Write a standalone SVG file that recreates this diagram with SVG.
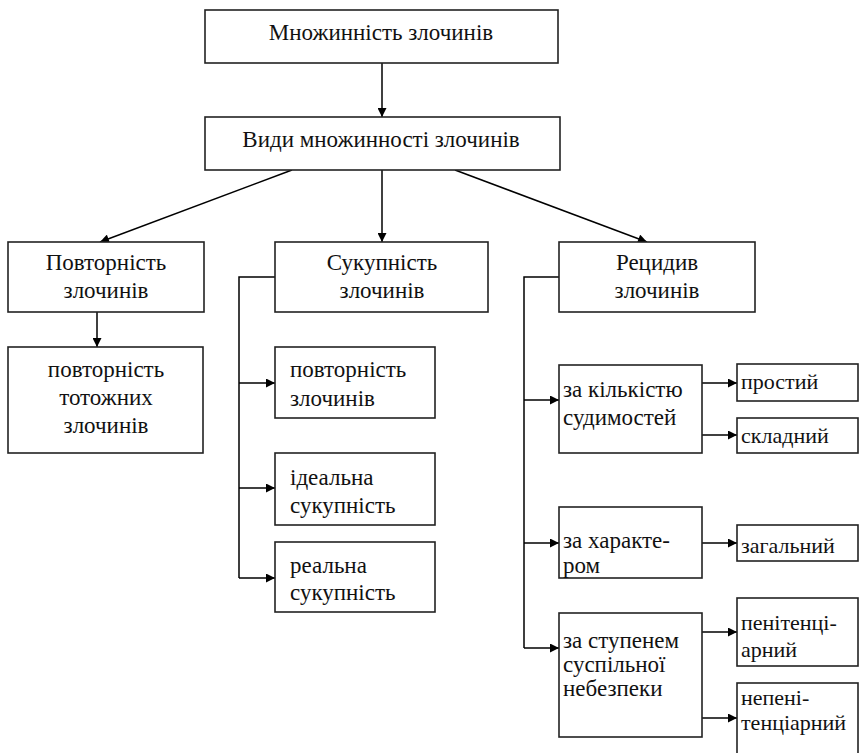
<svg xmlns="http://www.w3.org/2000/svg" width="859" height="753" viewBox="0 0 859 753">
<defs>
<marker id="ah" viewBox="0 0 10 10" refX="10" refY="5" markerWidth="10" markerHeight="9" markerUnits="userSpaceOnUse" orient="auto">
<path d="M0,0 L10,5 L0,10 Z" fill="#000"/>
</marker>
<style>
rect{fill:#fff;stroke:#222;stroke-width:1.6}
text{font-family:"Liberation Serif","Times New Roman",serif;font-size:23px;fill:#111}
.c{text-anchor:middle}
.s{font-size:22px}
.k{fill:none;stroke:#000;stroke-width:1.5}
.a{marker-end:url(#ah)}
</style>
</defs>
<rect x="0" y="0" width="859" height="753" style="fill:#fff;stroke:none"/>
<g id="connectors">
<line class="k a" x1="382" y1="63" x2="382" y2="117"/>
<line class="k a" x1="292" y1="170" x2="100" y2="242"/>
<line class="k a" x1="382" y1="170" x2="382" y2="242"/>
<line class="k a" x1="455" y1="170" x2="647" y2="242"/>
<line class="k a" x1="97" y1="312" x2="97" y2="347"/>
<polyline class="k" points="275,277 239,277 239,578"/>
<line class="k a" x1="239" y1="383" x2="275" y2="383"/>
<line class="k a" x1="239" y1="488" x2="275" y2="488"/>
<line class="k a" x1="239" y1="578" x2="275" y2="578"/>
<polyline class="k" points="559,277 524,277 524,648"/>
<line class="k a" x1="524" y1="400" x2="559" y2="400"/>
<line class="k a" x1="524" y1="543" x2="559" y2="543"/>
<line class="k a" x1="524" y1="648" x2="559" y2="648"/>
<line class="k a" x1="702" y1="383" x2="737" y2="383"/>
<line class="k a" x1="702" y1="435" x2="737" y2="435"/>
<line class="k a" x1="702" y1="543" x2="737" y2="543"/>
<line class="k a" x1="702" y1="632" x2="737" y2="632"/>
<line class="k a" x1="702" y1="718" x2="737" y2="718"/>
</g>
<g id="n-mnozhynnist"><rect x="205" y="10" width="353" height="53"/><text class="c" x="381" y="40">Множинність злочинів</text></g>
<g id="n-vydy"><rect x="205" y="117" width="355" height="53"/><text class="c" x="381" y="147">Види множинності злочинів</text></g>
<g id="n-povtornist"><rect x="8" y="242" width="196" height="70"/><text class="c" x="106" y="270">Повторність</text><text class="c" x="106" y="298">злочинів</text></g>
<g id="n-totozhnykh"><rect x="8" y="347" width="195" height="106"/><text class="c" x="106" y="377">повторність</text><text class="c" x="106" y="405">тотожних</text><text class="c" x="106" y="433">злочинів</text></g>
<g id="n-sukupnist"><rect x="275" y="242" width="213" height="70"/><text class="c" x="382" y="270">Сукупність</text><text class="c" x="382" y="298">злочинів</text></g>
<g id="n-s-povtornist"><rect x="275" y="347" width="160" height="71"/><text x="290" y="377">повторність</text><text x="290" y="406">злочинів</text></g>
<g id="n-idealna"><rect x="275" y="453" width="160" height="72"/><text x="290" y="485">ідеальна</text><text x="290" y="513">сукупність</text></g>
<g id="n-realna"><rect x="275" y="542" width="160" height="70"/><text x="290" y="573">реальна</text><text x="290" y="600">сукупність</text></g>
<g id="n-retsydyv"><rect x="559" y="242" width="196" height="70"/><text class="c" x="657" y="270">Рецидив</text><text class="c" x="657" y="298">злочинів</text></g>
<g id="n-kilkist"><rect x="559" y="365" width="143" height="88"/><text x="563" y="397">за кількістю</text><text x="563" y="425">судимостей</text></g>
<g id="n-kharakter"><rect x="559" y="507" width="143" height="71"/><text x="563" y="548">за характе-</text><text x="563" y="573">ром</text></g>
<g id="n-stupin"><rect x="559" y="613" width="143" height="124"/><text x="563" y="648">за ступенем</text><text x="563" y="672">суспільної</text><text x="563" y="696">небезпеки</text></g>
<g id="n-prostyi"><rect x="737" y="364" width="121" height="37"/><text class="s" x="741" y="389">простий</text></g>
<g id="n-skladnyi"><rect x="737" y="418" width="121" height="35"/><text class="s" x="741" y="443">складний</text></g>
<g id="n-zahalnyi"><rect x="737" y="525" width="121" height="36"/><text class="s" x="741" y="553">загальний</text></g>
<g id="n-penitentsiarnyi"><rect x="737" y="598" width="121" height="68"/><text class="s" x="741" y="630">пенітенці-</text><text class="s" x="741" y="657">арний</text></g>
<g id="n-nepenitentsiarnyi"><rect x="737" y="683" width="121" height="80"/><text class="s" x="741" y="705">непені-</text><text class="s" x="741" y="730">тенціарний</text></g>
</svg>
